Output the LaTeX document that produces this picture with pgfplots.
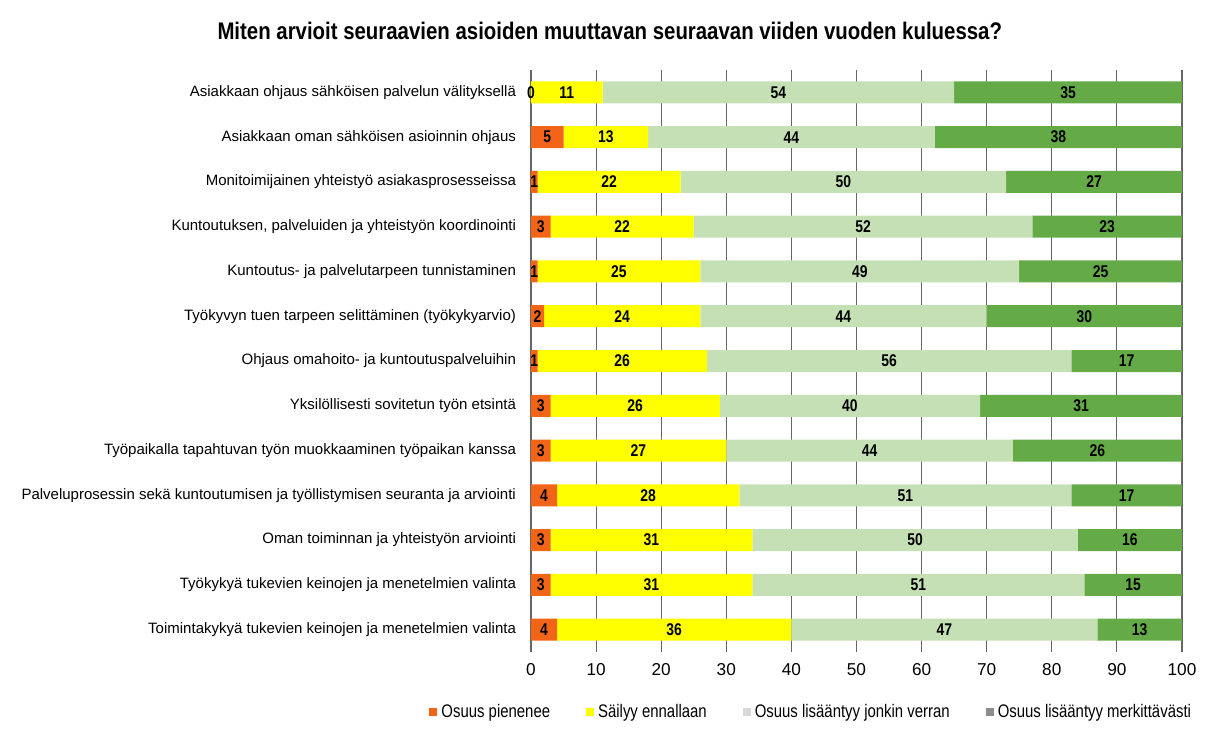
\documentclass[border=0pt]{standalone}
\usepackage{fontspec}
\setmainfont{Liberation Sans}
\newfontfamily\narrow[FakeStretch=0.82]{Liberation Sans}
\newfontfamily\titlefont[FakeStretch=0.85]{Liberation Sans}
\usepackage{pgfplots}
\pgfplotsset{compat=1.18}
\usepackage{pgfplotstable}

\definecolor{cOrange}{HTML}{F26418}
\definecolor{cYellow}{HTML}{FFFF00}
\definecolor{cLight}{HTML}{C6E0B6}
\definecolor{cDark}{HTML}{64AA46}

% a = pienenee, b = ennallaan, c = jonkin verran, d = merkittavasti
\pgfplotstableread{
a b c d
0 11 54 35
5 13 44 38
1 22 50 27
3 22 52 23
1 25 49 25
2 24 44 30
1 26 56 17
3 26 40 31
3 27 44 26
4 28 51 17
3 31 50 16
3 31 51 15
4 36 47 13
}\data

\pgfplotsset{
  base/.style={
    scale only axis, width=325.5pt, height=291pt,
    at={(0,0)}, anchor=south west,
    xmin=0, xmax=100, ymin=-0.5, ymax=12.5, y dir=reverse,
  },
  lbl/.style={draw=none, nodes near coords, point meta=explicit symbolic,
    nodes near coords style={anchor=center, inner sep=0pt,
      font=\narrow\bfseries\fontsize{8.5}{9}\selectfont}},
}

\begin{document}
\begin{tikzpicture}
\path[use as bounding box] (-265.5pt,-38.5pt) rectangle (342.5pt,326pt);

\begin{axis}[base,
  xbar stacked, bar width=11pt,
  axis line style={draw=none}, major tick length=0pt,
  xmajorgrids, grid style={color=black!60, line width=0.55pt},
  xtick={0,10,...,100},
  ytick={0,...,12},
  yticklabels={
    {Asiakkaan ohjaus sähköisen palvelun välityksellä},
    {Asiakkaan oman sähköisen asioinnin ohjaus},
    {Monitoimijainen yhteistyö asiakasprosesseissa},
    {Kuntoutuksen, palveluiden ja yhteistyön koordinointi},
    {Kuntoutus- ja palvelutarpeen tunnistaminen},
    {Työkyvyn tuen tarpeen selittäminen (työkykyarvio)},
    {Ohjaus omahoito- ja kuntoutuspalveluihin},
    {Yksilöllisesti sovitetun työn etsintä},
    {Työpaikalla tapahtuvan työn muokkaaminen työpaikan kanssa},
    {Palveluprosessin sekä kuntoutumisen ja työllistymisen seuranta ja arviointi},
    {Oman toiminnan ja yhteistyön arviointi},
    {Työkykyä tukevien keinojen ja menetelmien valinta},
    {Toimintakykyä tukevien keinojen ja menetelmien valinta}},
  /pgf/number format/assume math mode=true,
  yticklabel style={font=\fontsize{7.5}{9}\selectfont, xshift=-4pt},
  xticklabel style={font=\fontsize{8.6}{10}\selectfont, yshift=-2pt},
  title={Miten arvioit seuraavien asioiden muuttavan seuraavan viiden vuoden kuluessa?},
  title style={at={(0.121,1.046)}, anchor=center, yshift=0pt,
    font=\titlefont\bfseries\fontsize{12}{13}\selectfont},
  legend style={at={(0.432,-0.103)}, anchor=center, draw=none,
    legend columns=4, font=\narrow\fontsize{9.1}{10}\selectfont,
    /tikz/every even column/.append style={column sep=16pt}},
]
\addplot[fill=cOrange, draw=none,
  legend image code/.code={\fill[cOrange] (0pt,-2pt) rectangle (4pt,2pt);}]
  table[x=a, y expr=\coordindex] {\data};
\addlegendentry{Osuus pienenee}
\addplot[fill=cYellow, draw=none,
  legend image code/.code={\fill[cYellow] (0pt,-2pt) rectangle (4pt,2pt);}]
  table[x=b, y expr=\coordindex] {\data};
\addlegendentry{Säilyy ennallaan}
\addplot[fill=cLight, draw=none,
  legend image code/.code={\fill[black!15] (0pt,-2pt) rectangle (4pt,2pt);}]
  table[x=c, y expr=\coordindex] {\data};
\addlegendentry{Osuus lisääntyy jonkin verran}
\addplot[fill=cDark, draw=none,
  legend image code/.code={\fill[black!45] (0pt,-2pt) rectangle (4pt,2pt);}]
  table[x=d, y expr=\coordindex] {\data};
\addlegendentry{Osuus lisääntyy merkittävästi}
\end{axis}

\begin{axis}[base, hide axis]
\addplot[lbl] table[x expr=\thisrow{a}/2, y expr=\coordindex, meta=a] {\data};
\addplot[lbl] table[x expr=\thisrow{a}+\thisrow{b}/2, y expr=\coordindex, meta=b] {\data};
\addplot[lbl] table[x expr=\thisrow{a}+\thisrow{b}+\thisrow{c}/2, y expr=\coordindex, meta=c] {\data};
\addplot[lbl] table[x expr=\thisrow{a}+\thisrow{b}+\thisrow{c}+\thisrow{d}/2, y expr=\coordindex, meta=d] {\data};
\end{axis}
\end{tikzpicture}
\end{document}
